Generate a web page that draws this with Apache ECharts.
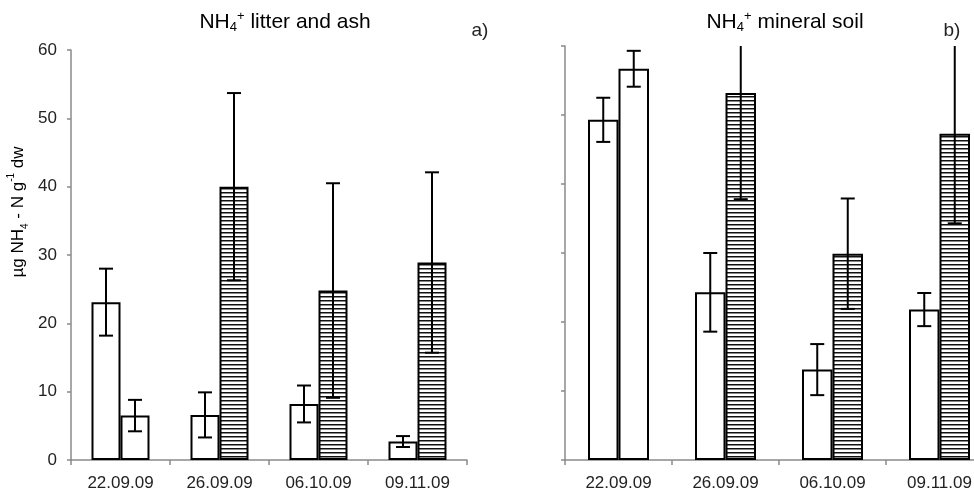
<!DOCTYPE html>
<html>
<head>
<meta charset="utf-8">
<script src="https://cdn.jsdelivr.net/npm/echarts@6/dist/echarts.min.js"></script>
<style>
  html, body { margin: 0; padding: 0; background: #fff; }
  #chart { width: 974px; height: 498px; }
</style>
</head>
<body>
<div id="chart"></div>
<script>
var dates = ['22.09.09', '26.09.09', '06.10.09', '09.11.09'];

// a) litter and ash
var litterA = [23.1, 6.6, 8.2, 2.7];
var litterAErr = [4.9, 3.3, 2.7, 0.8];
var litterB = [6.5, 40.0, 24.8, 28.9];
var litterBErr = [2.3, 13.7, 15.7, 13.2];

// b) mineral soil
var soilA = [49.3, 24.3, 13.1, 21.8];
var soilAErr = [3.2, 5.7, 3.7, 2.4];
var soilB = [56.7, 53.2, 29.9, 47.3];
var soilBErr = [2.6, 15.4, 8.0, 13.0];

var yMin = 0, yMax = 60, yStep = 10;

var FONT = 'Liberation Sans, Arial, sans-serif';
var AXIS_COLOR = '#8a8a8a';
var TEXT_COLOR = '#222';

function hatchCanvas() {
  var c = document.createElement('canvas');
  c.width = 4; c.height = 4;
  var ctx = c.getContext('2d');
  ctx.fillStyle = '#fff';
  ctx.fillRect(0, 0, 4, 4);
  ctx.fillStyle = '#111';
  ctx.fillRect(0, 0, 4, 1);
  ctx.fillStyle = '#888';
  ctx.fillRect(0, 1, 4, 1);
  return c;
}
var hatch = { image: hatchCanvas(), repeat: 'repeat' };

var myChart = echarts.init(document.getElementById('chart'));

function xAxisOf(gi) {
  return {
    type: 'category', gridIndex: gi, data: dates,
    axisLine: { show: true, lineStyle: { color: AXIS_COLOR, width: 1.5 } },
    axisTick: { show: true, length: 5, lineStyle: { color: AXIS_COLOR, width: 1.5 } },
    axisLabel: { margin: 15, fontSize: 17, color: TEXT_COLOR, fontFamily: FONT },
    splitLine: { show: false }
  };
}
function yAxisOf(gi, labels) {
  return {
    type: 'value', gridIndex: gi, min: yMin, max: yMax, interval: yStep,
    axisLine: { show: true, lineStyle: { color: AXIS_COLOR, width: 1.5 } },
    axisTick: { show: true, length: 4, lineStyle: { color: AXIS_COLOR, width: 1.5 } },
    axisLabel: { show: labels, margin: 14, fontSize: 17, color: TEXT_COLOR, fontFamily: FONT },
    splitLine: { show: false }
  };
}

function barSeries(gi, vals, hatched, bw) {
  return {
    type: 'bar', xAxisIndex: gi, yAxisIndex: gi, barWidth: bw, barGap: '0%',
    itemStyle: { color: hatched ? hatch : '#fff', borderColor: '#000', borderWidth: 2 },
    // first date has no hatching in the second series
    data: vals.map(function (v, i) {
      if (hatched && i === 0) return { value: v, itemStyle: { color: '#fff' } };
      return v;
    }),
    z: 2
  };
}

function errSeries(gi, vals, errs, shift) {
  return {
    type: 'custom', xAxisIndex: gi, yAxisIndex: gi, clip: true, z: 5,
    encode: { x: 0, y: [1, 2] },
    data: vals.map(function (v, i) { return [i, v - errs[i], v + errs[i]]; }),
    renderItem: function (params, api) {
      var lo = api.coord([api.value(0), api.value(1)]);
      var hi = api.coord([api.value(0), api.value(2)]);
      var x = lo[0] + shift, cap = 7;
      var st = { stroke: '#000', lineWidth: 2 };
      return {
        type: 'group',
        children: [
          { type: 'line', shape: { x1: x, y1: lo[1], x2: x, y2: hi[1] }, style: st },
          { type: 'line', shape: { x1: x - cap, y1: lo[1], x2: x + cap, y2: lo[1] }, style: st },
          { type: 'line', shape: { x1: x - cap, y1: hi[1], x2: x + cap, y2: hi[1] }, style: st }
        ]
      };
    }
  };
}

function richLabel(size) {
  return {
    m: { fontSize: size, lineHeight: 24, fontFamily: FONT, color: TEXT_COLOR },
    sub: { fontSize: Math.round(size * 0.6), lineHeight: 13, verticalAlign: 'bottom', fontFamily: FONT, color: TEXT_COLOR },
    sup: { fontSize: Math.round(size * 0.6), lineHeight: 12, verticalAlign: 'top', fontFamily: FONT, color: TEXT_COLOR }
  };
}

var option = {
  animation: false,
  backgroundColor: '#fff',
  grid: [
    { left: 71, top: 50, width: 396, height: 410, outerBoundsMode: 'none' },
    { left: 565, top: 46, width: 428, height: 414, outerBoundsMode: 'none' }
  ],
  xAxis: [xAxisOf(0), xAxisOf(1)],
  yAxis: [yAxisOf(0, true), yAxisOf(1, false)],
  series: [
    barSeries(0, litterA, false, 29),
    barSeries(0, litterB, true, 29),
    errSeries(0, litterA, litterAErr, -14.5),
    errSeries(0, litterB, litterBErr, 14.5),
    barSeries(1, soilA, false, 30.5),
    barSeries(1, soilB, true, 30.5),
    errSeries(1, soilA, soilAErr, -15.25),
    errSeries(1, soilB, soilBErr, 15.25)
  ],
  graphic: [
    { type: 'text', x: 285, y: 22, style: {
      text: '{m|NH}{sub|4}{sup|+}{m| litter and ash}', rich: richLabel(21),
      align: 'center', verticalAlign: 'middle' } },
    { type: 'text', x: 480, y: 31, style: {
      text: 'a)', font: '19px ' + FONT, fill: TEXT_COLOR, align: 'center', verticalAlign: 'middle' } },
    { type: 'text', x: 785, y: 22, style: {
      text: '{m|NH}{sub|4}{sup|+}{m| mineral soil}', rich: richLabel(21),
      align: 'center', verticalAlign: 'middle' } },
    { type: 'text', x: 952, y: 31, style: {
      text: 'b)', font: '19px ' + FONT, fill: TEXT_COLOR, align: 'center', verticalAlign: 'middle' } },
    { type: 'text', x: 18, y: 212, rotation: Math.PI / 2, style: {
      text: '{m|µg NH}{sub|4}{m| - N g}{sup|-1}{m| dw}', rich: richLabel(17),
      align: 'center', verticalAlign: 'middle' } }
  ]
};

option && myChart.setOption(option);
</script>
</body>
</html>
